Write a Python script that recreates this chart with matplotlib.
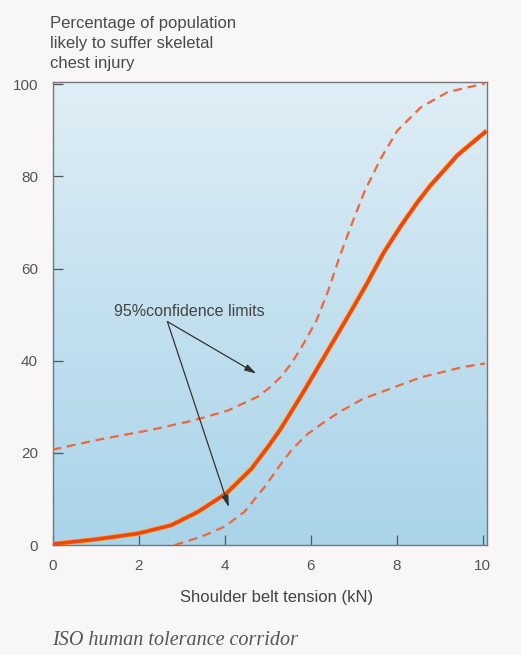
import numpy as np
import matplotlib
matplotlib.use("Agg")
import matplotlib.pyplot as plt
from matplotlib.colors import LinearSegmentedColormap

plt.rcParams['font.family'] = ['Liberation Sans', 'DejaVu Sans']

# readings
tension_mid = [0, 0.98, 1.99, 2.76, 3.38, 4.04, 4.62, 5.0, 5.31, 5.85, 6.4, 6.86,
               7.3, 7.7, 8.1, 8.49, 8.79, 9.26, 9.41, 10.05]
injury_mid = [0.2, 1.2, 2.5, 4.3, 7.2, 11.2, 16.5, 21.2, 25.3, 33.5, 42.2, 49.5,
              56.6, 63.5, 69.3, 74.5, 78.1, 83, 84.6, 89.6]

tension_hi = [0, 1.14, 2.3, 3.3, 4.08, 4.77, 5.05, 5.31, 5.55, 5.78, 6.13, 6.4,
              6.67, 6.92, 7.25, 7.63, 8.02, 8.56, 9.18, 10.05]
injury_hi = [20.7, 23, 25, 27.1, 29.2, 32.2, 34.2, 36.5, 39.4, 42.8, 48.6, 55,
             62.5, 68.8, 76.7, 83.9, 90, 95, 98.3, 100.2]

tension_lo = [2.84, 3.46, 4.0, 4.46, 4.93, 5.31, 5.58, 5.93, 6.36, 6.75, 7.21,
              7.67, 8.56, 9.57, 10.05]
injury_lo = [0, 1.8, 4, 7.2, 12.6, 17.6, 20.9, 24.1, 27, 29.3, 31.7,
             33.3, 36.4, 38.7, 39.4]

xticks = [0, 2, 4, 6, 8, 10]
yticks = [0, 20, 40, 60, 80, 100]

fig = plt.figure(figsize=(5.21, 6.55), dpi=100, facecolor="#f8f6f6")
ax = fig.add_axes([0.1008, 0.1679, 0.834, 0.7069])

# pale blue wash, lighter at the top
wash = LinearSegmentedColormap.from_list("wash", ["#a9d4e9", "#c3e0ef", "#e0eef6"])
grad = np.linspace(0, 1, 256).reshape(-1, 1)
ax.imshow(grad, cmap=wash, origin="lower", aspect="auto",
          extent=[0, 10.1, 0, 100.5], zorder=0)

dash = (0, (4, 2.6))
ax.plot(tension_hi, injury_hi, color="#f0663c", lw=1.6, ls=dash, zorder=3)
ax.plot(tension_lo, injury_lo, color="#f0663c", lw=1.6, ls=dash, zorder=3)
ax.plot(tension_mid, injury_mid, color="#f8a020", lw=3.5, zorder=4,
        solid_joinstyle="round")
ax.plot(tension_mid, injury_mid, color="#ee4512", lw=2.5, zorder=5,
        solid_joinstyle="round")

ax.set_xlim(0, 10.1)
ax.set_ylim(0, 100.5)
ax.set_xticks(xticks)
ax.set_yticks(yticks)
ax.tick_params(direction="in", length=7, width=0.9, color="#555555",
               labelcolor="#555555", labelsize=11)
ax.tick_params(axis="y", pad=10.5)
ax.tick_params(axis="x", pad=10)
for s in ax.spines.values():
    s.set_color("#777777")
    s.set_linewidth(1.0)

# annotation
ax.text(1.44, 49.7, "95%confidence limits", fontsize=11.5, color="#444444",
        va="baseline", ha="left", zorder=6)
arrow = dict(arrowstyle="-|>,head_length=0.7,head_width=0.2", color="#333333",
             lw=0.9, shrinkA=0, shrinkB=0)
ax.annotate("", xy=(4.74, 37.2), xytext=(2.67, 48.5), arrowprops=arrow, zorder=6)
ax.annotate("", xy=(4.1, 8.2), xytext=(2.67, 48.5), arrowprops=arrow, zorder=6)

fig.text(0.096, 0.9755, "Percentage of population\nlikely to suffer skeletal\nchest injury",
         fontsize=12, color="#4a4a4a", ha="left", va="top", linespacing=1.42)
fig.text(0.5307, 0.0885, "Shoulder belt tension (kN)", fontsize=12, color="#444444",
         ha="center", va="center")
fig.text(0.0998, 0.0153, "ISO human tolerance corridor", fontsize=14.5, color="#555555",
         family="Liberation Serif", style="italic", ha="left", va="baseline")

fig.savefig("out.png", dpi=100, facecolor=fig.get_facecolor())
